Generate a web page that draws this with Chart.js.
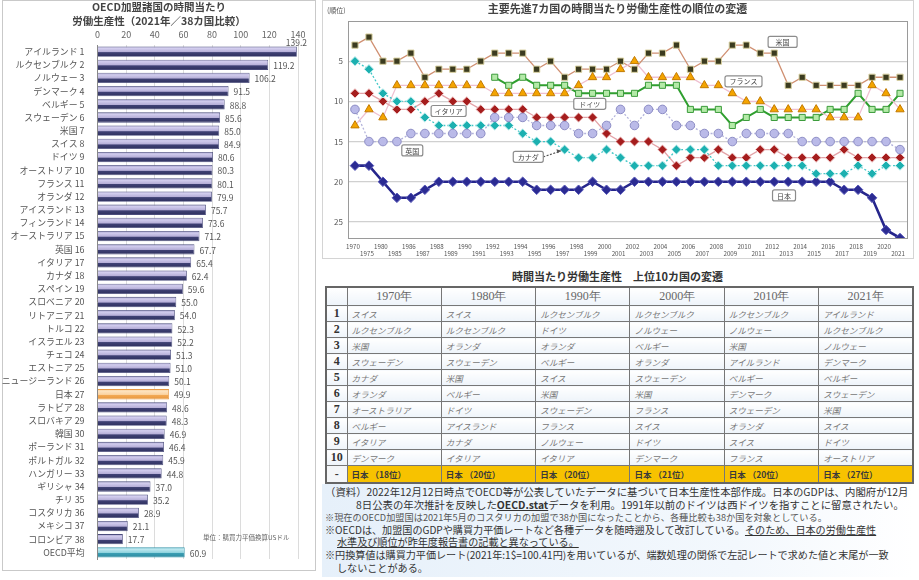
<!DOCTYPE html>
<html lang="ja">
<head>
<meta charset="UTF-8">
<title>労働生産性の国際比較</title>
<script src="https://cdn.jsdelivr.net/npm/chart.js"></script>
<style>
  body { margin: 0; width: 919px; height: 580px; background: #fff; position: relative; overflow: hidden;
         font-family: "Noto Sans CJK JP", "Noto Sans", sans-serif; color: #333; }
  .box { position: absolute; box-sizing: border-box; }
  #leftBox { left: 2px; top: 0; width: 314px; height: 571px; border: 1px solid #c9c9c9; }
  #leftTitle { position: absolute; left: 0; top: 0; width: 318px; text-align: center; font-size: 10.5px;
               line-height: 14px; font-weight: bold; color: #444; }
  #barWrap { position: absolute; left: 0; top: 0; width: 318px; height: 570px; }
  #rightBox { left: 322px; top: 0; width: 592px; height: 259px; border: 1px solid #d4d4d4; }
  #lineWrap { position: absolute; left: 322px; top: 0; width: 591px; height: 258px; }
  #lineTitle { position: absolute; left: 322px; top: 0; width: 591px; text-align: center; font-size: 11px;
               font-weight: bold; color: #444; }
  #unitRank { position: absolute; left: 327px; top: 5px; font-size: 7px; color: #555; }
  #tblTitle { position: absolute; left: 322px; top: 268px; width: 591px; text-align: center; font-size: 11px;
              font-weight: bold; color: #333; }
  table { position: absolute; left: 325px; top: 286px; border-collapse: collapse; border: 2px solid #666;
          table-layout: fixed; width: 589px; }
  td, th { border: 1px solid #777; height: 15px; padding: 0 0 0 4px; font-size: 8.5px; color: #777;
           font-style: italic; white-space: nowrap; overflow: hidden;
           background: linear-gradient(#ffffff, #eef4fa); }
  th { font-family: "Liberation Serif", "DejaVu Serif", serif; font-style: normal; font-weight: normal;
       font-size: 12px; color: #666; height: 16px; padding: 0; text-align: center; }
  td.no { font-family: "Liberation Serif", serif; font-style: normal; font-weight: bold; font-size: 12px;
          color: #333; text-align: center; padding: 0; }
  tr.jp td { background: #f7c200; color: #3a3a3a; font-style: normal; font-weight: bold; height: 16px; }
  #notes { left: 322px; top: 484px; width: 592px; height: 93px; background: linear-gradient(90deg, #e6f0fa, #f3f8fd 70%, #ffffff);
           font-size: 10.4px; line-height: 12.6px; color: #333; padding: 2px 0 0 3px; white-space: nowrap; overflow: hidden; }
  #notes .s { color: #555; font-size: 9.2px; }
  #notes .m { font-size: 10.1px; }
  #notes u { text-decoration: underline; }
</style>
</head>
<body>
<div class="box" id="leftBox"></div>
<div class="box" id="rightBox"></div>
<div id="barWrap"><canvas id="barChart"></canvas></div>
<div id="leftTitle">OECD加盟諸国の時間当たり<br>労働生産性（2021年／38カ国比較）</div>
<div id="lineWrap"><canvas id="rankChart"></canvas></div>
<div id="lineTitle">主要先進7カ国の時間当たり労働生産性の順位の変遷</div>
<div id="unitRank">(順位)</div>
<div id="tblTitle">時間当たり労働生産性　上位10カ国の変遷</div>
<table id="topTable"></table>
<div class="box" id="notes">
（資料）2022年12月12日時点でOECD等が公表していたデータに基づいて日本生産性本部作成。日本のGDPは、内閣府が12月<br>
<span style="padding-left:31px">8日公表の年次推計を反映した<u><b>OECD.stat</b></u>データを利用。1991年以前のドイツは西ドイツを指すことに留意されたい。</span><br>
<span class="s">※現在のOECD加盟国は2021年5月のコスタリカの加盟で38か国になったことから、各種比較も38か国を対象としている。</span><br>
<span class="m">※OECDは、加盟国のGDPや購買力平価レートなど各種データを随時遡及して改訂している。<u>そのため、日本の労働生産性</u></span><br>
<span class="m" style="padding-left:12px"><u>水準及び順位が昨年度報告書の記載と異なっている。</u></span><br>
<span class="m">※円換算値は購買力平価レート(2021年:1$=100.41円)を用いているが、端数処理の関係で左記レートで求めた値と末尾が一致</span><br>
<span class="m" style="padding-left:12px">しないことがある。</span>
</div>
<script>
// ---- 時間当たり労働生産性（2021年） ----
const barLabels = ['アイルランド 1', 'ルクセンブルク 2', 'ノルウェー 3', 'デンマーク 4', 'ベルギー 5',
  'スウェーデン 6', '米国 7', 'スイス 8', 'ドイツ 9', 'オーストリア 10', 'フランス 11', 'オランダ 12',
  'アイスランド 13', 'フィンランド 14', 'オーストラリア 15', '英国 16', 'イタリア 17', 'カナダ 18',
  'スペイン 19', 'スロベニア 20', 'リトアニア 21', 'トルコ 22', 'イスラエル 23', 'チェコ 24',
  'エストニア 25', 'ニュージーランド 26', '日本 27', 'ラトビア 28', 'スロバキア 29', '韓国 30',
  'ポーランド 31', 'ポルトガル 32', 'ハンガリー 33', 'ギリシャ 34', 'チリ 35', 'コスタリカ 36',
  'メキシコ 37', 'コロンビア 38', 'OECD平均'];
const barValues = [139.2, 119.2, 106.2, 91.5, 88.8, 85.6, 85.0, 84.9, 80.6, 80.3, 80.1, 79.9,
  75.7, 73.6, 71.2, 67.7, 65.4, 62.4, 59.6, 55.0, 54.0, 52.3, 52.2, 51.3, 51.0, 50.1, 49.9,
  48.6, 48.3, 46.9, 46.4, 45.9, 44.8, 37.0, 35.2, 28.9, 21.1, 17.7, 60.9];
const barTicks = [0, 20, 40, 60, 80, 100, 120, 140];

// ---- G7の順位 ----
const rankYears = ['1970', '1975', '1980', '1985', '1986', '1987', '1988', '1989', '1990', '1991',
  '1992', '1993', '1994', '1995', '1996', '1997', '1998', '1999', '2000', '2001', '2002', '2003',
  '2004', '2005', '2006', '2007', '2008', '2009', '2010', '2011', '2012', '2013', '2014', '2015',
  '2016', '2017', '2018', '2019', '2020', '2021'];
const rankUS = [3, 2, 5, 5, 4, 7, 6, 6, 6, 5, 4, 4, 4, 6, 5, 7, 6, 6, 6, 5, 6, 4, 4, 3, 6, 5, 5, 3, 3, 4,
  4, 8, 7, 8, 8, 8, 8, 7, 7, 7];
const rankFrance = [13, 11, 12, 8, 8, 8, 8, 8, 8, 8, 9, 9, 9, 9, 9, 9, 8, 7, 7, 6, 5, 7, 7, 7, 7, 8, 8, 9,
  10, 10, 11, 11, 11, 11, 12, 12, 12, 8, 9, 11];
const rankGermany = [null, null, null, null, null, null, null, null, null, null, 7, 8, 7, 8, 8, 8, 9, 9,
  9, 9, 9, 8, 8, 8, 11, 11, 11, 13, 12, 11, 12, 12, 12, 12, 11, 11, 9, 11, 11, 9];
const rankItaly = [9, 9, 10, 11, 11, 10, 9, 10, 10, 11, 11, 11, 11, 12, 12, 12, 12, 12, 14, 15, 15, 15,
  16, 18, 17, 17, 16, 17, 17, 16, 16, 17, 17, 17, 17, 16, 17, 17, 17, 17];
const rankUK = [11, 15, 15, 15, 14, 14, 14, 14, 14, 14, 12, 12, 12, 13, 13, 13, 14, 14, 13, 11, 13, 11,
  11, 13, 13, 14, 14, 15, 14, 14, 14, 14, 15, 15, 15, 15, 15, 15, 15, 16];
const rankCanada = [5, 6, 9, 10, 10, 12, 13, 13, 13, 13, 13, 13, 14, 15, 15, 16, 17, 17, 16, 17, 18, 18,
  18, 16, 16, 16, 18, 18, 18, 18, 18, 18, 18, 19, 19, 19, 18, 19, 18, 18];
const rankJapan = [18, 18, 20, 22, 22, 21, 20, 20, 20, 20, 20, 20, 20, 21, 21, 21, 21, 20, 21, 21, 20, 20,
  20, 20, 20, 20, 20, 20, 20, 20, 20, 20, 20, 20, 20, 21, 21, 22, 26, 27];
const rankTicks = [5, 10, 15, 20, 25];

// ---- 上位10カ国の変遷 ----
const tableYears = ['1970年', '1980年', '1990年', '2000年', '2010年', '2021年'];
const top1970 = ['スイス', 'ルクセンブルク', '米国', 'スウェーデン', 'カナダ', 'オランダ', 'オーストラリア', 'ベルギー', 'イタリア', 'デンマーク'];
const top1980 = ['スイス', 'ルクセンブルク', 'オランダ', 'スウェーデン', '米国', 'ベルギー', 'ドイツ', 'アイスランド', 'カナダ', 'イタリア'];
const top1990 = ['ルクセンブルク', 'ドイツ', 'オランダ', 'ベルギー', 'スイス', '米国', 'スウェーデン', 'フランス', 'ノルウェー', 'イタリア'];
const top2000 = ['ルクセンブルク', 'ノルウェー', 'ベルギー', 'オランダ', 'スウェーデン', '米国', 'フランス', 'スイス', 'ドイツ', 'デンマーク'];
const top2010 = ['ルクセンブルク', 'ノルウェー', '米国', 'アイルランド', 'ベルギー', 'デンマーク', 'スウェーデン', 'オランダ', 'スイス', 'フランス'];
const top2021 = ['アイルランド', 'ルクセンブルク', 'ノルウェー', 'デンマーク', 'ベルギー', 'スウェーデン', '米国', 'スイス', 'ドイツ', 'オーストリア'];
const japanRankByYear = [18, 20, 20, 21, 20, 27];

const FONT = '"Noto Sans CJK JP", "Noto Sans", sans-serif';

// table
(function () {
  const cols = [top1970, top1980, top1990, top2000, top2010, top2021];
  let html = '<colgroup><col style="width:21px">' + tableYears.map(() => '<col>').join('') + '</colgroup>';
  html += '<tr><th></th>' + tableYears.map(y => '<th>' + y + '</th>').join('') + '</tr>';
  for (let r = 0; r < 10; r++) {
    html += '<tr><td class="no">' + (r + 1) + '</td>' + cols.map(c => '<td>' + c[r] + '</td>').join('') + '</tr>';
  }
  html += '<tr class="jp"><td class="no" style="background:#f4f6f8">-</td>' +
    japanRankByYear.map(n => '<td>日本 （' + n + '位）</td>').join('') + '</tr>';
  document.getElementById('topTable').innerHTML = html;
})();

// bar gradient per row
function barFill(c) {
  const chart = c.chart;
  const sy = chart.scales.y;
  const base = c.dataIndex === 26 ? '#fbd4a3' : (c.dataIndex === barValues.length - 1 ? '#8fd3de' : '#b6afd8');
  if (!sy || c.dataIndex === undefined) return base;
  const y = sy.getPixelForValue(c.dataIndex);
  if (!isFinite(y)) return base;
  const g = chart.ctx.createLinearGradient(0, y - 5, 0, y + 5);
  let stops;
  if (c.dataIndex === 26) stops = ['#f7c88e', '#fde3c0', '#fbd4a3', '#f2a955', '#e8963c'];
  else if (c.dataIndex === barValues.length - 1) stops = ['#6fc0cf', '#bfe8ef', '#8fd3de', '#3a9db2', '#2d8aa0'];
  else stops = ['#8a86b6', '#d2cdee', '#b6afd8', '#3f4174', '#2f315f'];
  g.addColorStop(0, stops[0]);
  g.addColorStop(0.18, stops[1]);
  g.addColorStop(0.52, stops[2]);
  g.addColorStop(0.6, stops[3]);
  g.addColorStop(1, stops[4]);
  return g;
}

const barValuePlugin = {
  id: 'barValues',
  afterDatasetsDraw(chart) {
    const { ctx, scales } = chart;
    ctx.save();
    ctx.font = '8.5px ' + FONT;
    ctx.fillStyle = '#555';
    ctx.textBaseline = 'middle';
    barValues.forEach((v, i) => {
      const x = scales.x.getPixelForValue(v);
      const y = scales.y.getPixelForValue(i);
      const t = v.toFixed(1);
      if (x + 30 > chart.width) ctx.fillText(t, x - 11, y - 9);
      else ctx.fillText(t, x + 5, y + 1);
    });
    ctx.font = '6.5px ' + FONT;
    ctx.fillStyle = '#666';
    ctx.fillText('単位：購買力平価換算USドル', 203, 538);
    ctx.restore();
  }
};

new Chart(document.getElementById('barChart'), {
  type: 'bar',
  data: {
    labels: barLabels,
    datasets: [{
      data: barValues,
      backgroundColor: barFill,
      borderColor: ctx => ctx.dataIndex === 26 ? '#e89a45' : (ctx.dataIndex === barValues.length - 1 ? '#3a96aa' : '#4a4c7c'),
      borderWidth: 0.8,
      borderSkipped: 'left',
      barPercentage: 0.78,
      categoryPercentage: 1
    }]
  },
  options: {
    indexAxis: 'y',
    responsive: true,
    maintainAspectRatio: false,
    animation: false,
    layout: { padding: { left: 0, right: 20, top: 0, bottom: 11 } },
    plugins: { legend: { display: false }, tooltip: { enabled: false } },
    scales: {
      x: {
        position: 'top',
        min: 0, max: 140,
        afterBuildTicks: s => { s.ticks = barTicks.map(v => ({ value: v })); },
        afterFit: s => { s.height = 45; },
        ticks: { font: { size: 9, family: FONT }, color: '#666', padding: 5 },
        grid: { color: '#dcdcdc', drawTicks: false },
        border: { display: false }
      },
      y: {
        afterFit: s => { s.width = 97.5; },
        ticks: { font: { size: 8.9, family: FONT }, color: '#555', padding: 5, autoSkip: false },
        grid: { display: false },
        border: { color: '#888' }
      }
    }
  },
  plugins: [barValuePlugin]
});

// ---- rank chart ----
const callouts = [
  { text: '米国', i: 30.6, r: 2.6, w: 29 },
  { text: 'フランス', i: 27.8, r: 7.5, w: 37 },
  { text: 'ドイツ', i: 16.8, r: 10.3, w: 32 },
  { text: 'イタリア', i: 6.7, r: 11.2, w: 35 },
  { text: '英国', i: 4.1, r: 16.1, w: 21 },
  { text: 'カナダ', i: 12.4, r: 16.9, w: 30, arrow: { i: 14.7, r: 16.2 } },
  { text: '日本', i: 30.7, r: 21.7, w: 23 }
];

const rankDecor = {
  id: 'rankDecor',
  afterDraw(chart) {
    const { ctx, chartArea: a, scales } = chart;
    ctx.save();
    ctx.strokeStyle = '#9a9a9a';
    ctx.lineWidth = 1;
    ctx.strokeRect(a.left + 0.5, a.top + 0.5, a.right - a.left, a.bottom - a.top);
    // two-row year labels under the category axis
    ctx.font = '6.2px ' + FONT;
    ctx.fillStyle = '#555';
    ctx.textAlign = 'center';
    ctx.textBaseline = 'middle';
    rankYears.forEach((yr, i) => {
      const x = scales.x.getPixelForValue(i);
      ctx.fillText(yr, x - 2, a.bottom + (i % 2 === 0 ? 8.5 : 16));
    });
    ctx.font = '7px ' + FONT;
    callouts.forEach(c => {
      const x = scales.x.getPixelForValue(c.i);
      const y = scales.y.getPixelForValue(c.r);
      const h = 11;
      if (c.arrow) {
        const ax = scales.x.getPixelForValue(c.arrow.i);
        const ay = scales.y.getPixelForValue(c.arrow.r);
        ctx.strokeStyle = '#555';
        ctx.setLineDash([2, 1.5]);
        ctx.beginPath();
        ctx.moveTo(x + c.w / 2, y);
        ctx.lineTo(ax, ay);
        ctx.stroke();
        ctx.setLineDash([]);
        ctx.fillStyle = '#555';
        ctx.beginPath();
        ctx.moveTo(ax + 1, ay - 0.5);
        ctx.lineTo(ax - 4, ay - 2);
        ctx.lineTo(ax - 3, ay + 2);
        ctx.fill();
      }
      ctx.fillStyle = '#fff';
      ctx.strokeStyle = '#8c8c8c';
      ctx.lineWidth = 1.2;
      ctx.beginPath();
      ctx.roundRect(x - c.w / 2, y - h / 2, c.w, h, 2);
      ctx.fill();
      ctx.stroke();
      ctx.fillStyle = '#444';
      ctx.fillText(c.text, x, y + 0.5);
    });
    ctx.restore();
  }
};

function series(label, data, line, fill, edge, style, extra) {
  return Object.assign({
    label: label,
    data: data,
    borderColor: line,
    backgroundColor: fill,
    pointBackgroundColor: fill,
    pointBorderColor: edge,
    pointBorderWidth: 1,
    pointStyle: style,
    pointRadius: 4.3,
    borderWidth: 1.3,
    tension: 0,
    spanGaps: false
  }, extra || {});
}

new Chart(document.getElementById('rankChart'), {
  type: 'line',
  data: {
    labels: rankYears,
    datasets: [
      series('英国', rankUK, '#b3b3db', '#babae8', '#8c8cc4', 'circle', { borderDash: [2, 2] }),
      series('カナダ', rankCanada, '#3ec6c6', '#1cb0b0', '#c8f0f0', 'rectRot', { borderDash: [2, 2], pointRadius: 4.7 }),
      series('イタリア', rankItaly, '#e3a3a8', '#a51d1d', '#f0c8c8', 'rectRot', { pointRadius: 4.7 }),
      series('フランス', rankFrance, '#efbfd0', '#f4a400', '#c27a00', 'triangle', { pointRadius: 4.8 }),
      series('ドイツ', rankGermany, '#2f9f2f', '#b4eaa8', '#3c9c3c', 'rect', { borderWidth: 2 }),
      series('米国', rankUS, '#d09072', '#3b3b1f', '#d8d0a0', 'rect', { pointRadius: 4.4 }),
      series('日本', rankJapan, '#26268c', '#2b2b92', '#5858b8', 'rectRot', { borderWidth: 2.6, pointRadius: 4.8 })
    ]
  },
  options: {
    responsive: true,
    maintainAspectRatio: false,
    animation: false,
    layout: { padding: { left: 0, right: 6, top: 21, bottom: 0 } },
    plugins: { legend: { display: false }, tooltip: { enabled: false } },
    scales: {
      x: {
        offset: true,
        afterFit: s => { s.height = 20; },
        ticks: { display: false },
        grid: { display: false },
        border: { display: false }
      },
      y: {
        reverse: true,
        min: 0, max: 27,
        afterBuildTicks: s => { s.ticks = rankTicks.map(v => ({ value: v })); },
        afterFit: s => { s.width = 26; },
        ticks: { font: { size: 8, family: FONT }, color: '#555', padding: 5 },
        grid: { color: '#d0d0d0', lineWidth: 1.2, drawTicks: false },
        border: { display: false }
      }
    }
  },
  plugins: [rankDecor]
});
</script>
</body>
</html>
